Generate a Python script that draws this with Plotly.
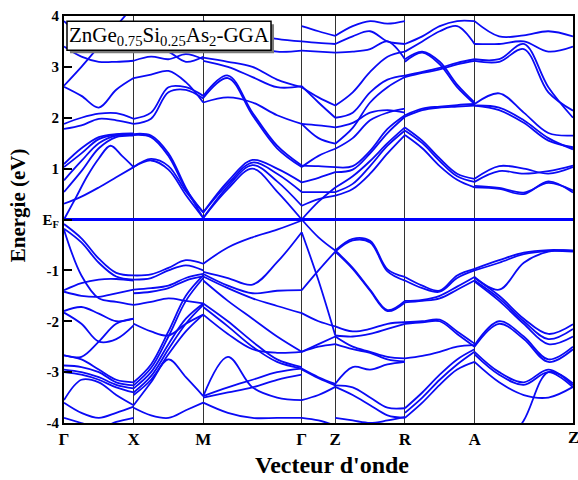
import numpy as np
import plotly.graph_objects as go

# high-symmetry points along the path
kpt_labels = ["Γ", "X", "M", "Γ", "Z", "R", "A", "Z"]
kpt_pos = [0.0, 1.0, 2.0, 3.4142, 3.8962, 4.8962, 5.8962, 7.3104]

# band energies (eV) sampled at evenly spaced points along each segment
GX_cond = [
    [0, 0.42, 0.85, 1.2, 1.45, 1.25, 1.03],
    [0.31, 0.45, 0.63, 0.83, 1.03],
    [0.54, 0.95, 1.4, 1.62, 1.65],
    [0.77, 1.15, 1.5, 1.65, 1.66],
    [1.03, 1.3, 1.58, 1.67, 1.68],
    [1.09, 1.4, 1.62, 1.68, 1.69],
    [1.78, 1.85, 1.98, 1.95, 1.88],
    [1.88, 2.0, 2.08, 2.09, 1.98],
    [2.61, 2.43, 2.2, 2.55, 2.78],
    [2.63, 3.0, 3.4, 3.8, 4.2],
    [3.4, 3.2, 3.1, 3.1, 3.12],
    [3.9, 3.6, 3.4, 3.45, 3.5],
]
GX_val = [
    [-0.09, -0.37, -0.77, -1.05, -1.10],
    [-0.18, -0.45, -0.85, -1.12, -1.18],
    [-0.2, -1.1, -1.55, -1.62, -1.68],
    [-1.39, -1.25, -1.18, -1.17, -1.2],
    [-1.42, -1.5, -1.52, -1.45, -1.38],
    [-1.8, -1.72, -1.85, -2.0, -1.95],
    [-1.83, -2.05, -2.4, -2.35, -2.08],
    [-2.67, -2.7, -2.4, -2.05, -1.95],
    [-2.67, -2.75, -2.95, -3.15, -3.2],
    [-2.87, -2.9, -3.0, -3.2, -3.26],
    [-2.95, -3.0, -3.1, -3.25, -3.32],
    [-3.0, -3.05, -3.15, -3.3, -3.4],
    [-3.55, -3.15, -3.2, -3.45, -3.65],
    [-3.6, -3.8, -3.9, -3.8, -3.68],
    [-3.9, -4.0, -4.1, -3.98, -3.9],
]
XM_cond = [
    [1.03, 1.19, 1.05, 0.55, 0.14],
    [1.03, 1.16, 0.98, 0.48, 0.03],
    [1.66, 1.62, 1.25, 0.6, 0.14],
    [1.68, 1.65, 1.3, 0.62, 0.03],
    [1.98, 2.1, 2.6, 2.6, 2.43],
    [1.88, 1.98, 2.5, 2.55, 2.38],
    [2.78, 2.85, 2.92, 2.7, 2.3],
    [3.12, 3.2, 3.15, 3.25, 3.15],
    [3.5, 3.4, 3.3, 3.1, 3.2],
]
XM_val = [
    [-1.10, -1.08, -0.95, -0.8, -0.87],
    [-1.18, -1.15, -1.0, -0.9, -1.0],
    [-1.38, -1.35, -1.3, -1.15, -1.07],
    [-1.45, -1.42, -1.35, -1.2, -1.12],
    [-1.68, -1.62, -1.55, -1.6, -1.65],
    [-2.05, -2.2, -2.28, -2.05, -1.87],
    [-3.2, -2.85, -2.2, -1.5, -1.1],
    [-3.26, -2.92, -2.3, -1.6, -1.15],
    [-3.32, -3.0, -2.45, -1.95, -1.65],
    [-3.4, -3.08, -2.55, -2.05, -1.68],
    [-3.45, -3.15, -2.65, -2.2, -1.87],
    [-3.65, -3.2, -2.75, -3.1, -3.47],
    [-3.7, -3.85, -3.9, -3.75, -3.6],
]
MG_cond = [
    [0.14, 0.75, 1.17, 1.0, 0.73],
    [0.14, 0.7, 1.12, 0.9, 0.54],
    [0.03, 0.65, 1.07, 0.75, 0.27],
    [0.03, 0.6, 1.0, 0.55, 0.0],
    [2.43, 2.83, 2.1, 1.45, 1.06],
    [2.39, 2.78, 2.05, 1.4, 1.03],
    [2.3, 2.4, 2.3, 2.05, 1.88],
    [3.12, 3.0, 2.8, 2.6, 2.62],
    [3.18, 3.1, 3.0, 2.75, 2.6],
    [3.5, 3.6, 3.4, 3.3, 3.32],
    [3.9, 3.7, 3.65, 3.55, 3.5],
]
MG_val = [
    [-0.87, -0.55, -0.35, -0.2, -0.02],
    [-1.03, -1.15, -1.28, -0.84, -0.25],
    [-1.07, -1.3, -1.45, -1.4, -1.39],
    [-1.12, -1.35, -1.55, -1.7, -1.84],
    [-1.2, -1.6, -1.95, -2.3, -2.6],
    [-1.65, -2.0, -2.4, -2.75, -2.9],
    [-1.72, -2.1, -2.5, -2.8, -2.93],
    [-1.87, -2.25, -2.55, -2.62, -2.6],
    [-3.47, -3.3, -3.15, -3.0, -2.93],
    [-3.5, -3.4, -3.3, -3.15, -3.05],
    [-3.47, -2.7, -3.3, -3.5, -3.55],
    [-3.6, -3.8, -3.9, -3.9, -3.9],
]
GZ_cond = [
    [0.0, 0.35, 0.63],
    [0.27, 0.4, 0.47],
    [0.54, 0.54, 0.54],
    [0.73, 0.82, 0.93],
    [1.06, 1.05, 1.03],
    [1.03, 1.25, 1.39],
    [1.88, 1.6, 1.49],
    [1.88, 1.85, 1.81],
    [2.6, 2.4, 2.24],
    [2.62, 2.3, 2.0],
    [3.32, 3.3, 3.28],
    [3.5, 3.47, 3.45],
    [3.8, 3.7, 3.61],
]
GZ_val = [
    [0.0, -0.35, -0.61],
    [-0.25, -1.2, -2.28],
    [-1.39, -1.0, -0.63],
    [-1.84, -2.0, -2.1],
    [-2.6, -2.45, -2.3],
    [-2.6, -2.5, -2.45],
    [-2.93, -3.1, -3.23],
    [-2.95, -3.12, -3.26],
    [-3.55, -3.45, -3.29],
    [-3.9, -3.95, -4.05],
]
ZR_cond = [
    [0.47, 0.6, 0.9, 1.3, 1.66],
    [0.54, 0.7, 1.05, 1.45, 1.75],
    [0.63, 0.85, 1.15, 1.5, 1.81],
    [0.93, 0.98, 1.3, 1.7, 2.02],
    [1.03, 1.05, 1.35, 1.78, 2.05],
    [1.39, 1.6, 1.95, 2.1, 2.18],
    [1.49, 1.8, 2.3, 2.6, 2.8],
    [1.81, 1.9, 2.1, 2.15, 2.1],
    [2.0, 2.1, 2.5, 2.75, 2.83],
    [2.24, 2.5, 2.9, 3.2, 3.3],
    [3.28, 3.3, 3.35, 3.5, 3.15],
    [3.45, 3.6, 3.7, 3.5, 3.45],
    [3.61, 3.8, 3.9, 3.85, 3.9],
]
ZR_val = [
    [-0.61, -0.38, -0.42, -0.98, -1.13],
    [-0.63, -0.41, -0.45, -1.02, -1.2],
    [-0.61, -0.95, -1.38, -1.78, -1.6],
    [-0.63, -0.97, -1.4, -1.8, -1.63],
    [-2.1, -2.2, -2.15, -2.05, -2.02],
    [-2.28, -2.3, -2.25, -2.15, -2.05],
    [-2.3, -2.5, -2.6, -2.7, -2.73],
    [-2.45, -2.55, -2.62, -2.75, -2.79],
    [-3.23, -2.9, -2.95, -2.85, -2.8],
    [-3.26, -3.3, -3.5, -3.7, -3.71],
    [-3.29, -3.45, -3.65, -3.85, -3.9],
    [-3.9, -3.95, -4.0, -3.95, -3.88],
]
RA_cond = [
    [1.81, 1.55, 1.2, 0.9, 0.8],
    [1.75, 1.5, 1.15, 0.85, 0.74],
    [1.66, 1.4, 1.05, 0.78, 0.63],
    [2.02, 2.15, 2.2, 2.22, 2.24],
    [2.05, 2.18, 2.22, 2.25, 2.27],
    [3.1, 3.28, 3.05, 2.6, 2.27],
    [3.15, 3.3, 3.1, 2.65, 2.3],
    [2.83, 2.9, 2.98, 3.08, 3.15],
    [2.8, 2.88, 2.95, 3.05, 3.12],
    [3.3, 3.5, 3.7, 3.8, 3.45],
    [3.45, 3.6, 3.8, 3.9, 3.9],
]
RA_val = [
    [-1.13, -1.3, -1.4, -1.1, -0.97],
    [-1.2, -1.35, -1.42, -1.15, -1.0],
    [-1.6, -1.58, -1.5, -1.32, -1.13],
    [-1.63, -1.6, -1.55, -1.38, -1.2],
    [-2.02, -2.0, -1.97, -2.2, -2.44],
    [-2.05, -2.02, -2.0, -2.25, -2.5],
    [-2.73, -2.68, -2.6, -2.5, -2.47],
    [-3.71, -3.4, -3.05, -2.75, -2.55],
    [-3.8, -3.5, -3.15, -2.85, -2.6],
    [-3.9, -3.6, -3.25, -2.95, -2.8],
]
AZ_cond = [
    [0.8, 1.05, 1.0, 0.9, 1.03],
    [0.74, 0.95, 0.9, 0.95, 1.06],
    [0.63, 0.6, 0.5, 0.75, 0.53],
    [0.66, 0.62, 0.53, 0.72, 0.57],
    [2.27, 2.48, 2.1, 1.7, 1.65],
    [2.24, 2.15, 1.9, 1.55, 1.42],
    [2.24, 2.2, 1.95, 1.6, 1.38],
    [3.15, 3.15, 3.45, 2.6, 2.0],
    [3.12, 3.1, 3.35, 2.5, 2.14],
    [3.45, 3.45, 3.5, 3.3, 3.4],
    [3.9, 3.6, 3.62, 3.7, 3.6],
]
AZ_val = [
    [-0.97, -0.8, -0.65, -0.6, -0.61],
    [-1.0, -0.85, -0.68, -0.62, -0.63],
    [-1.13, -1.38, -0.85, -0.63, -0.61],
    [-1.15, -1.5, -1.95, -2.25, -2.06],
    [-1.2, -1.55, -2.0, -2.35, -2.15],
    [-1.22, -1.6, -2.05, -2.45, -2.3],
    [-2.47, -2.0, -2.3, -2.75, -2.5],
    [-2.5, -2.05, -2.35, -2.8, -2.55],
    [-2.6, -3.0, -3.2, -2.95, -3.26],
    [-2.65, -3.05, -3.25, -3.0, -3.3],
    [-2.8, -3.2, -3.45, -3.5, -3.29],
    [-5.0, -4.6, -3.95, -3.0, -3.22],
]

segments = [
    (0, GX_cond + GX_val),
    (1, XM_cond + XM_val),
    (2, MG_cond + MG_val),
    (3, GZ_cond + GZ_val),
    (4, ZR_cond + ZR_val),
    (5, RA_cond + RA_val),
    (6, AZ_cond + AZ_val),
]

yticks = [4, 3, 2, 1, 0, -1, -2, -3, -4]
ytick_text = ["4", "3", "2", "1", "E<sub>F</sub>", "-1", "-2", "-3", "-4"]

BLUE = "#0a0af5"
fig = go.Figure()
for i, bands in segments:
    k0, k1 = kpt_pos[i], kpt_pos[i + 1]
    for b in bands:
        ks = np.linspace(k0, k1, len(b))
        fig.add_trace(go.Scatter(x=ks, y=b, mode="lines",
                                 line=dict(color=BLUE, width=1.8, shape="spline", smoothing=1.0),
                                 hoverinfo="skip", showlegend=False))

# Fermi level
fig.add_trace(go.Scatter(x=[kpt_pos[0], kpt_pos[-1]], y=[0, 0], mode="lines",
                         line=dict(color="#0000ff", width=3), showlegend=False, hoverinfo="skip"))

FONT = "Liberation Serif"
fig.update_layout(
    width=578, height=480,
    margin=dict(l=64, r=5, t=16, b=57, autoexpand=False),
    paper_bgcolor="white", plot_bgcolor="white",
    font=dict(family=FONT, color="black"),
    xaxis=dict(range=[kpt_pos[0], kpt_pos[-1]], tickvals=kpt_pos[:-1], automargin=False,
               ticktext=["<b>%s</b>" % t for t in kpt_labels[:-1]],
               tickfont=dict(size=17, family=FONT, color="black"),
               showgrid=True, gridcolor="#333333", gridwidth=1,
               zeroline=False, showline=True, linecolor="black", linewidth=2, mirror=True,
               ticks=""),
    yaxis=dict(range=[-4, 4], tickvals=yticks, automargin=False,
               ticktext=["<b>%s</b>" % t for t in ytick_text],
               tickfont=dict(size=15, family=FONT, color="black"),
               showgrid=False, zeroline=False, showline=True, linecolor="black", linewidth=2, mirror=True,
               ticks="inside", ticklen=8, tickwidth=2, tickcolor="black"),
)

# last k-point label at the right edge (would be hidden as a tick label)
fig.add_annotation(xref="x", yref="paper", x=kpt_pos[-1], y=-0.0345, xanchor="center", yanchor="middle",
                   text="<b>%s</b>" % kpt_labels[-1], showarrow=False,
                   font=dict(size=17, family=FONT, color="black"))

# axis titles
fig.add_annotation(xref="paper", yref="paper", x=0.527, y=-0.103, xanchor="center", yanchor="middle",
                   text="<b>Vecteur d'onde</b>", showarrow=False,
                   font=dict(size=24, family=FONT, color="black"))
fig.add_annotation(xref="paper", yref="paper", x=-0.0904, y=0.535, xanchor="center", yanchor="middle",
                   text="<b>Energie (eV)</b>", showarrow=False, textangle=-90,
                   font=dict(size=21, family=FONT, color="black"))

# label box with shadow (drawn above the bands)
fig.add_shape(type="rect", xref="paper", yref="paper", x0=0.0118, x1=0.4126, y0=0.9084, y1=0.9796,
              fillcolor="#7a7a7a", line=dict(width=0), layer="above")
fig.add_shape(type="rect", xref="paper", yref="paper", x0=0.0059, x1=0.4067, y0=0.9158, y1=0.9870,
              fillcolor="white", line=dict(color="black", width=1.5), layer="above")
fig.add_annotation(xref="paper", yref="paper", x=0.2063, y=0.9514, xanchor="center", yanchor="middle",
                   text="ZnGe<sub>0.75</sub>Si<sub>0.25</sub>As<sub>2</sub>-GGA",
                   showarrow=False, font=dict(size=21, family=FONT, color="black"))

fig.write_html("out.html")
